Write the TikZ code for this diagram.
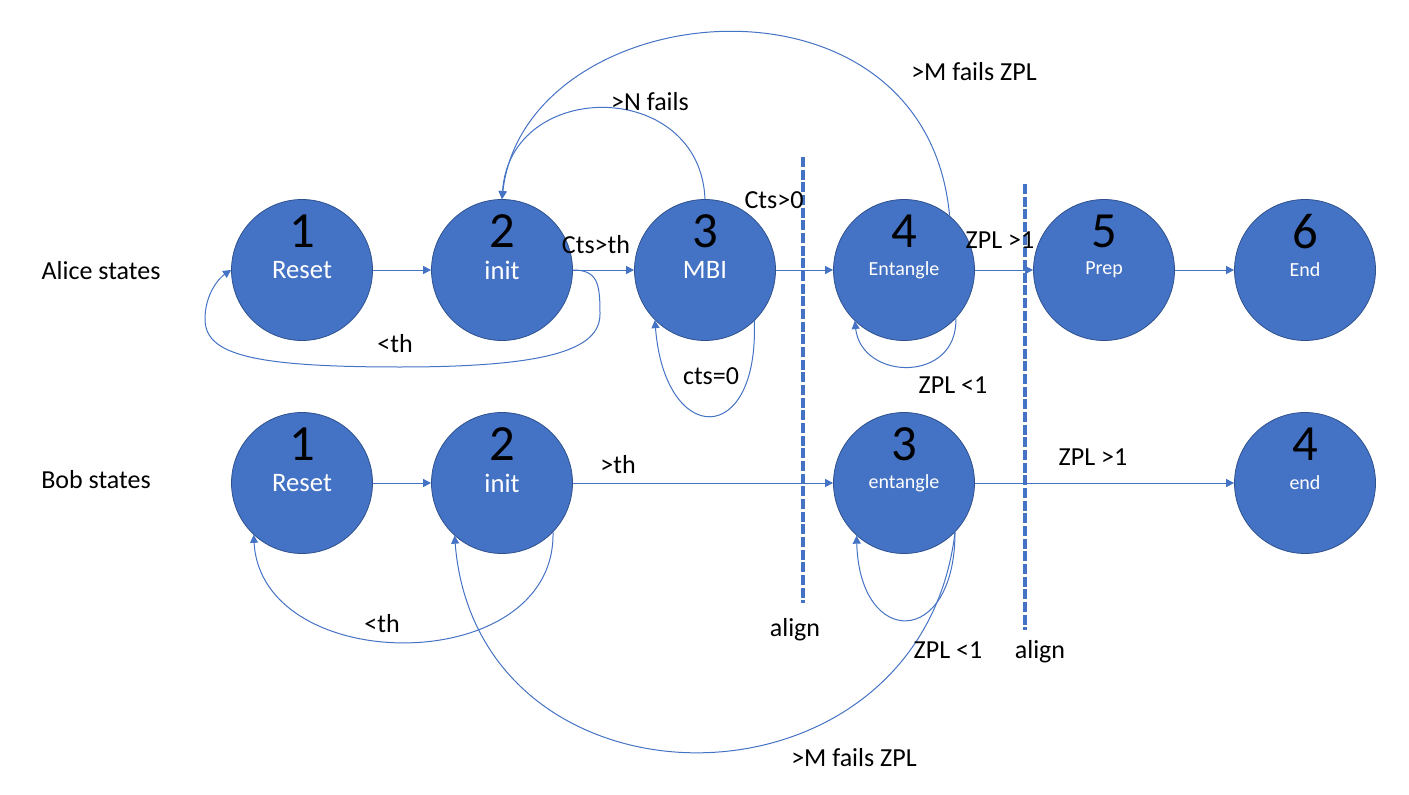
\documentclass[tikz,border=0pt]{standalone}
\usepackage{fontspec}
\setmainfont{Carlito}
\usetikzlibrary{arrows.meta}
\definecolor{stateblue}{HTML}{4472C4}
\definecolor{stateedge}{HTML}{2F528F}

\begin{document}
\begin{tikzpicture}[x=0.75pt,y=0.75pt,
        state/.style={circle,fill=stateblue,draw=stateedge,line width=0.6pt,minimum size=105.75pt,inner sep=0pt,text=white,font=\fontsize{20}{24}\selectfont},
        small/.style={font=\fontsize{15}{18}\selectfont},
        num/.style={text=black,font=\fontsize{38}{44}\selectfont,yshift=29pt},
        lbl/.style={font=\fontsize{19.5}{23}\selectfont},
        edge/.style={draw=stateblue,line width=0.75pt,-{Triangle[length=6pt,width=6pt]}},
        wall/.style={draw=stateblue,line width=3pt,dash pattern=on 7.5pt off 2pt}]
        \useasboundingbox (0,0) rectangle (1409,794);
        % Alice
        \node[state,label={[num]center:1}] (a1) at (302,524) {Reset};
        \node[state,label={[num]center:2}] (a2) at (502,524) {init};
        \node[state,label={[num]center:3}] (a3) at (705,524) {MBI};
        \node[state,small,label={[num]center:4}] (a4) at (904,524) {Entangle};
        \node[state,small,label={[num]center:5}] (a5) at (1104,524) {Prep};
        \node[state,small,label={[num]center:6}] (a6) at (1305,524) {End};
        % Bob
        \node[state,label={[num]center:1}] (b1) at (302,311) {Reset};
        \node[state,label={[num]center:2}] (b2) at (502,311) {init};
        \node[state,small,label={[num]center:3}] (b3) at (904,311) {entangle};
        \node[state,small,label={[num]center:4}] (b4) at (1305,311) {end};
        \node[lbl](alice) at (101,523) {Alice states};
        \node[lbl](bob) at (96,314) {Bob states};
        \draw[wall] (803,637) -- (803,191);
        \draw[wall] (1025,610) -- (1025,164);
        \draw[edge] (a1) -- (a2);
        \draw[edge] (a2) -- (a3);
        \draw[edge] (a3) -- (a4);
        \draw[edge] (a4) -- (a5);
        \draw[edge] (a5) -- (a6);
        \draw[edge] (a2.east) .. controls +(25,0) and +(0,30) .. (600,480)
            .. controls +(0,-35) and +(150,0) .. (400,427)
            .. controls +(-150,0) and +(0,-35) .. (205,475)
            .. controls +(0,25) and +(-12,-8) .. (a1.west);
        \draw[edge] (a3.-46) .. controls +(5,-127) and +(10,-127) .. (a3.-135);
        \draw[edge] (a4.-43) .. controls +(2,-65) and +(7,-60) .. (a4.-134);
        \draw[edge] (a3.north) .. controls +(-5,121) and +(8,121) .. (a2.north);
        \draw[edge] (a4.50) .. controls +(-24,262) and +(23,205) .. (a2.north);
        \draw[edge] (b1) -- (b2);
        \draw[edge] (b2) -- (b3);
        \draw[edge] (b3) -- (b4);
        \draw[edge] (b2.-44) .. controls +(3,-146) and +(8,-143) .. (b1.-133);
        \draw[edge] (b3.-44) .. controls +(0,-116) and +(3,-113) .. (b3.-132);
        \draw[edge] (b3.-44) .. controls +(-35,-292) and +(23,-289) .. (b2.-132);
        % labels
        \node[lbl](l23) at (596,549) {Cts>th};
        \node[lbl](l34) at (774,594) {Cts>0};
        \node[lbl](l45) at (1000,554) {ZPL >1};
        \node[lbl](l21) at (395,450) {<th};
        \node[lbl](l33) at (711,418) {cts=0};
        \node[lbl](l32) at (650,692) {>N fails};
        \node[lbl](l42) at (974,722) {>M fails ZPL};
        \node[lbl](l44) at (953,409) {ZPL <1};
        \node[lbl](m23) at (618,329) {>th};
        \node[lbl](m34) at (1093,337) {ZPL >1};
        \node[lbl](m21) at (382,170) {<th};
        \node[lbl](m33) at (948,144) {ZPL <1};
        \node[lbl](m32) at (854,36) {>M fails ZPL};
        \node[lbl](align1) at (795,164) {align};
        \node[lbl](align2) at (1040,142) {align};
        \end{tikzpicture}
\end{document}
